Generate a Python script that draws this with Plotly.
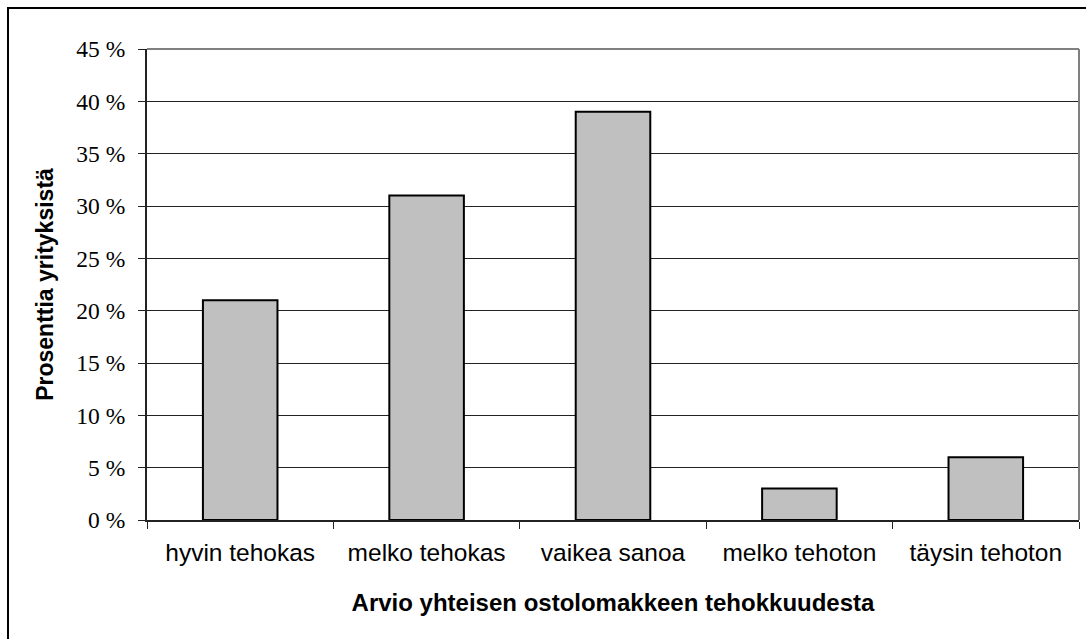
import plotly.graph_objects as go

# Survey answers: how effective the shared purchase form is judged to be
categories = ["hyvin tehokas", "melko tehokas", "vaikea sanoa", "melko tehoton", "täysin tehoton"]
shares = [21, 31, 39, 3, 6]  # percent of companies
y_tick_values = [0, 5, 10, 15, 20, 25, 30, 35, 40, 45]
y_tick_labels = [f"{v} %" for v in y_tick_values]

W, H = 1086, 639
L, R, T, B = 147, 7, 49, 119
pw, ph = W - L - R, H - T - B

fig = go.Figure(
    go.Bar(
        x=categories,
        y=shares,
        marker=dict(color="#C0C0C0", line=dict(color="#000000", width=2)),
    )
)

fig.update_layout(
    width=W,
    height=H,
    margin=dict(l=L, r=R, t=T, b=B),
    paper_bgcolor="white",
    plot_bgcolor="white",
    bargap=0.6,
    showlegend=False,
    font=dict(family="Liberation Sans, Arial, sans-serif", color="black"),
)

fig.update_xaxes(
    type="category",
    showline=True,
    linecolor="#222222",
    linewidth=2,
    ticks="outside",
    tickson="boundaries",
    ticklen=7,
    tickwidth=1,
    tickcolor="#222222",
    showgrid=False,
    ticklabelstandoff=10,
    tickfont=dict(family="Liberation Sans, Arial, sans-serif", size=24.5, color="black"),
    title=dict(
        text="<b>Arvio yhteisen ostolomakkeen tehokkuudesta</b>",
        font=dict(family="Liberation Sans, Arial, sans-serif", size=24, color="black"),
        standoff=29,
    ),
)

fig.update_yaxes(
    range=[0, 45],
    tickvals=y_tick_values,
    ticktext=y_tick_labels,
    showline=True,
    linecolor="#222222",
    linewidth=2,
    ticks="outside",
    ticklen=7,
    tickcolor="#222222",
    showgrid=True,
    gridcolor="#222222",
    gridwidth=1,
    zeroline=False,
    ticklabelstandoff=8,
    tickfont=dict(family="Liberation Serif, Times New Roman, serif", size=23.5, color="black"),
    title=dict(
        text="<b>Prosenttia yrityksistä</b>",
        font=dict(family="Liberation Sans, Arial, sans-serif", size=23, color="black"),
        standoff=16,
    ),
)

# plot-area frame on top/right in grey
fig.add_shape(type="line", xref="paper", yref="paper", x0=0, x1=1, y0=1, y1=1,
              line=dict(color="#808080", width=2))
fig.add_shape(type="line", xref="paper", yref="paper", x0=1, x1=1, y0=0, y1=1,
              line=dict(color="#808080", width=2))

# outer chart border
def px_to_paper_x(px):
    return (px - L) / pw

def px_to_paper_y(py):
    return (H - B - py) / ph

fig.add_shape(type="rect", xref="paper", yref="paper",
              x0=px_to_paper_x(8), x1=px_to_paper_x(W + 20),
              y0=px_to_paper_y(H + 20), y1=px_to_paper_y(8),
              line=dict(color="#000000", width=2), fillcolor="rgba(0,0,0,0)", layer="below")

fig.write_html("out.html")
